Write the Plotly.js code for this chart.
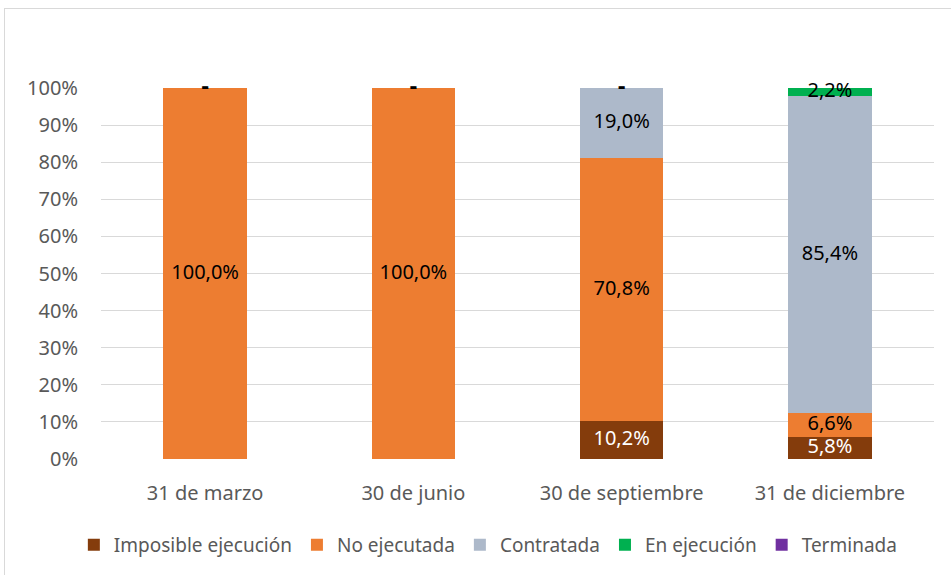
<!DOCTYPE html>
<html>
<head>
<meta charset="utf-8">
<script src="https://cdn.plot.ly/plotly-3.0.1.min.js"></script>
<style>
html,body{margin:0;padding:0;background:#fff;overflow:hidden;}
#frame{position:absolute;left:4px;top:8px;width:1000px;height:1000px;border-left:1px solid #D9D9D9;border-top:1px solid #D9D9D9;pointer-events:none;z-index:2;}
#chart{position:absolute;left:0;top:0;width:951px;height:575px;}
</style>
</head>
<body>
<div id="chart"></div>
<div id="frame"></div>
<script>
const categories = ["31 de marzo", "30 de junio", "30 de septiembre", "31 de diciembre"];
const seriesNames = ["Imposible ejecución", "No ejecutada", "Contratada", "En ejecución", "Terminada"];
const imposible = [0, 0, 10.2, 5.8];
const noEjecutada = [100, 100, 70.8, 6.6];
const contratada = [0, 0, 19.0, 85.4];
const enEjecucion = [0, 0, 0, 2.2];
const terminada = [0, 0, 0, 0];
const seriesColors = ["#843C0C", "#ED7D31", "#ADB9CA", "#00B050", "#7030A0"];
const labelColors = ["#FFFFFF", "#000000", "#000000", "#000000", "#000000"];
const yTickVals = [0,10,20,30,40,50,60,70,80,90,100];
const yTickText = ["0%","10%","20%","30%","40%","50%","60%","70%","80%","90%","100%"];

const seriesValues = [imposible, noEjecutada, contratada, enEjecucion, terminada];
const FONT = "Noto Sans, Open Sans, sans-serif";

const traces = [];
seriesValues.forEach((vals, i) => {
  traces.push({
    type: "bar", name: seriesNames[i], x: categories, y: vals,
    marker: {color: seriesColors[i]}, hoverinfo: "skip"
  });
});

// data labels
const base = categories.map(() => 0);
const dashX = [], dashY = [];
seriesValues.forEach((vals, i) => {
  const lx = [], ly = [], lt = [];
  vals.forEach((v, j) => {
    if (v > 0) {
      lx.push(categories[j]); ly.push(base[j] + v / 2);
      lt.push(v.toFixed(1).replace(".", ",") + "%");
    } else if (i === seriesValues.length - 1) {
      dashX.push(categories[j]); dashY.push(base[j]);
    }
    base[j] += v;
  });
  traces.push({
    type: "scatter", mode: "text", x: lx, y: ly, text: lt,
    textposition: "middle center", showlegend: false, hoverinfo: "skip",
    cliponaxis: false,
    textfont: {family: FONT, size: 20, color: labelColors[i]}
  });
});
traces.push({
  type: "scatter", mode: "text", x: dashX, y: dashY, text: dashX.map(() => "-"),
  textposition: "middle center", showlegend: false, hoverinfo: "skip", cliponaxis: false,
  textfont: {family: "DejaVu Sans, sans-serif", size: 20, color: "#000000", weight: "bold"}
});

const layout = {
  width: 951, height: 575,
  margin: {l: 101, r: 17, t: 88, b: 115},
  barmode: "stack", bargap: 0.6,
  paper_bgcolor: "#fff", plot_bgcolor: "#fff",
  font: {family: FONT, size: 20, color: "#595959"},
  showlegend: true,
  legend: {orientation: "h", x: 0.465, xanchor: "center", y: -0.228, yanchor: "middle",
           font: {family: FONT, size: 19, color: "#595959"}, traceorder: "normal",
           itemwidth: 30, tracegroupgap: 0},
  xaxis: {type: "category", showgrid: false, showline: false, zeroline: false,
          ticks: "", ticklabelstandoff: 20, tickfont: {family: FONT, size: 20, color: "#595959"}},
  yaxis: {range: [0, 100], tickvals: yTickVals, ticktext: yTickText, showgrid: true,
          gridcolor: "#D9D9D9", gridwidth: 1, zeroline: false, showline: false,
          ticks: "", ticklabelstandoff: 22, tickfont: {family: FONT, size: 20, color: "#595959"}},
  hovermode: false
};

Plotly.newPlot("chart", traces, layout, {displayModeBar: false, staticPlot: true});
</script>
</body>
</html>
